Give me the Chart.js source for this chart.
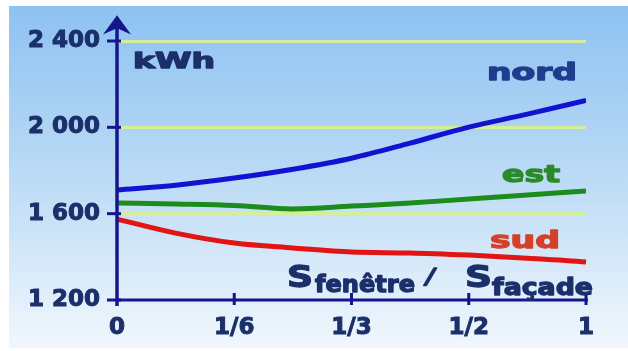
<!DOCTYPE html>
<html lang="fr">
<head>
  <meta charset="UTF-8" />
  <title>Consommation kWh selon S fenêtre / S façade</title>
  <script src="https://cdn.jsdelivr.net/npm/chart.js"></script>
  <style>
    html, body { margin: 0; padding: 0; background: #fff; }
    #wrap { width: 628px; height: 351px; }
  </style>
</head>
<body>
  <div id="wrap"><canvas id="kwhChart" width="628" height="351"></canvas></div>

  <script>
    // x ticks sit at equal spacing, so positions are tick indexes
    const xTickLabels = ['0', '1/6', '1/3', '1/2', '1'];
    const yTicks = [1200, 1600, 2000, 2400];

    const xPos = [0, 0.5, 1, 1.5, 2, 2.5, 3, 3.5, 4];
    const nordKWh = [1710, 1732, 1765, 1806, 1857, 1927, 2001, 2061, 2125];
    const estKWh = [1650, 1645, 1638, 1622, 1635, 1649, 1668, 1686, 1705];
    // sud goes slightly past the last tick
    const sudPos = [0, 0.5, 1, 1.5, 2, 2.5, 3, 3.5, 4, 4.15];
    const sudKWh = [1575, 1510, 1464, 1441, 1422, 1418, 1408, 1394, 1376, 1367];

    const NAVY = '#1b2f6b';
    const AXIS = '#16168c';
    const FONT = '"DejaVu Sans", Verdana, sans-serif';

    const pts = (xs, ys) => xs.map((x, i) => ({ x, y: ys[i] }));
    const fmt = v => Math.floor(v / 1000) + ' ' + String(v % 1000).padStart(3, '0');

    // text with a horizontal stretch, like the scanned picture
    function stretchText(ctx, text, x, base, font, color, w) {
      ctx.save();
      ctx.font = font;
      ctx.fillStyle = color;
      ctx.strokeStyle = color;
      ctx.textBaseline = 'alphabetic';
      ctx.textAlign = 'left';
      const m = ctx.measureText(text).width;
      ctx.translate(x, base);
      ctx.scale(w / m, 1);
      ctx.lineWidth = 1.3;
      ctx.lineJoin = 'round';
      ctx.fillText(text, 0, 0);
      ctx.strokeText(text, 0, 0);
      ctx.restore();
    }

    const bgPlugin = {
      id: 'bg',
      beforeDraw(chart) {
        const ctx = chart.ctx;
        const g = ctx.createLinearGradient(0, 6, 0, 348);
        g.addColorStop(0, '#8dc2f1');
        g.addColorStop(0.45, '#b6d8f5');
        g.addColorStop(1, '#f1f7fc');
        ctx.save();
        ctx.fillStyle = g;
        ctx.fillRect(9, 6, 619, 342);
        ctx.restore();
      }
    };

    const axesPlugin = {
      id: 'axes',
      afterDatasetsDraw(chart) {
        const ctx = chart.ctx;
        const xs = chart.scales.x, ys = chart.scales.y;
        const x0 = xs.getPixelForValue(0), x1 = xs.getPixelForValue(4);
        const y0 = ys.getPixelForValue(1200);
        ctx.save();
        ctx.strokeStyle = AXIS;
        ctx.fillStyle = AXIS;
        ctx.lineCap = 'butt';
        ctx.lineWidth = 3.5;
        // y axis with arrow
        ctx.beginPath();
        ctx.moveTo(x0, y0 + 6);
        ctx.lineTo(x0, 20);
        ctx.stroke();
        ctx.lineJoin = 'miter';
        ctx.beginPath();
        ctx.moveTo(x0 - 11, 32);
        ctx.lineTo(x0, 17);
        ctx.lineTo(x0 + 11, 32);
        ctx.lineTo(x0, 27);
        ctx.closePath();
        ctx.fill();
        ctx.lineWidth = 2;
        ctx.stroke();
        // x axis
        ctx.lineWidth = 3;
        ctx.beginPath();
        ctx.moveTo(x0, y0);
        ctx.lineTo(x1 + 2, y0);
        ctx.stroke();
        // y tick marks
        yTicks.forEach(v => {
          const y = ys.getPixelForValue(v);
          ctx.beginPath();
          ctx.moveTo(x0 - 10, y);
          ctx.lineTo(x0 + 4, y);
          ctx.stroke();
        });
        // x tick marks
        [1, 2, 3, 4].forEach(i => {
          const x = xs.getPixelForValue(i);
          ctx.beginPath();
          ctx.moveTo(x, y0 - 7);
          ctx.lineTo(x, y0 + 5);
          ctx.stroke();
        });
        ctx.restore();
      },
      afterDraw(chart) {
        const ctx = chart.ctx;
        stretchText(ctx, 'kWh', 133, 68, 'bold 22px ' + FONT, NAVY, 82);
        stretchText(ctx, 'nord', 487, 80, 'bold 23px ' + FONT, '#203c8e', 90);
        stretchText(ctx, 'est', 502, 182, 'bold 23px ' + FONT, '#2a8a2a', 58);
        stretchText(ctx, 'sud', 490, 248, 'bold 23px ' + FONT, '#d4402a', 70);
        stretchText(ctx, 'S', 287, 287, 'bold 30px ' + FONT, NAVY, 26);
        stretchText(ctx, 'fenêtre', 315, 292, 'bold 23px ' + FONT, NAVY, 100);
        stretchText(ctx, '/', 426, 284, 'italic bold 22px ' + FONT, NAVY, 9);
        stretchText(ctx, 'S', 465, 287, 'bold 30px ' + FONT, NAVY, 27);
        stretchText(ctx, 'façade', 492, 295, 'bold 23px ' + FONT, NAVY, 101);
      }
    };

    new Chart(document.getElementById('kwhChart'), {
      type: 'line',
      data: {
        datasets: [
          { label: 'nord', data: pts(xPos, nordKWh), borderColor: '#1212d2', borderWidth: 5 },
          { label: 'est', data: pts(xPos, estKWh), borderColor: '#1c8c1c', borderWidth: 5 },
          { label: 'sud', data: pts(sudPos, sudKWh), borderColor: '#e31414', borderWidth: 5, clip: false }
        ]
      },
      options: {
        responsive: false,
        animation: false,
        events: [],
        layout: { padding: { top: 41, right: 42, left: 0, bottom: 0 } },
        elements: {
          point: { radius: 0 },
          line: { tension: 0.4, cubicInterpolationMode: 'monotone', capStyle: 'round', fill: false }
        },
        plugins: { legend: { display: false }, tooltip: { enabled: false } },
        scales: {
          x: {
            type: 'linear',
            min: 0, max: 4,
            afterFit: s => { s.height = 51; },
            grid: { display: false, drawTicks: false },
            border: { display: false },
            ticks: {
              stepSize: 1,
              padding: 14,
              color: NAVY,
              textStrokeColor: NAVY,
              textStrokeWidth: 1,
              font: { family: FONT, size: 23, weight: 'bold' },
              maxRotation: 0,
              callback: v => xTickLabels[v]
            }
          },
          y: {
            min: 1200, max: 2400,
            afterFit: s => { s.width = 117; },
            afterBuildTicks: s => { s.ticks = yTicks.map(v => ({ value: v })); },
            grid: {
              drawTicks: false,
              lineWidth: 3,
              color: c => c.tick && c.tick.value === 1200 ? 'rgba(0,0,0,0)' : '#d6ee9a'
            },
            border: { display: false },
            ticks: {
              padding: 17,
              color: NAVY,
              textStrokeColor: NAVY,
              textStrokeWidth: 1,
              font: { family: FONT, size: 23, weight: 'bold' },
              callback: v => fmt(v)
            }
          }
        }
      },
      plugins: [bgPlugin, axesPlugin]
    });
  </script>
</body>
</html>
